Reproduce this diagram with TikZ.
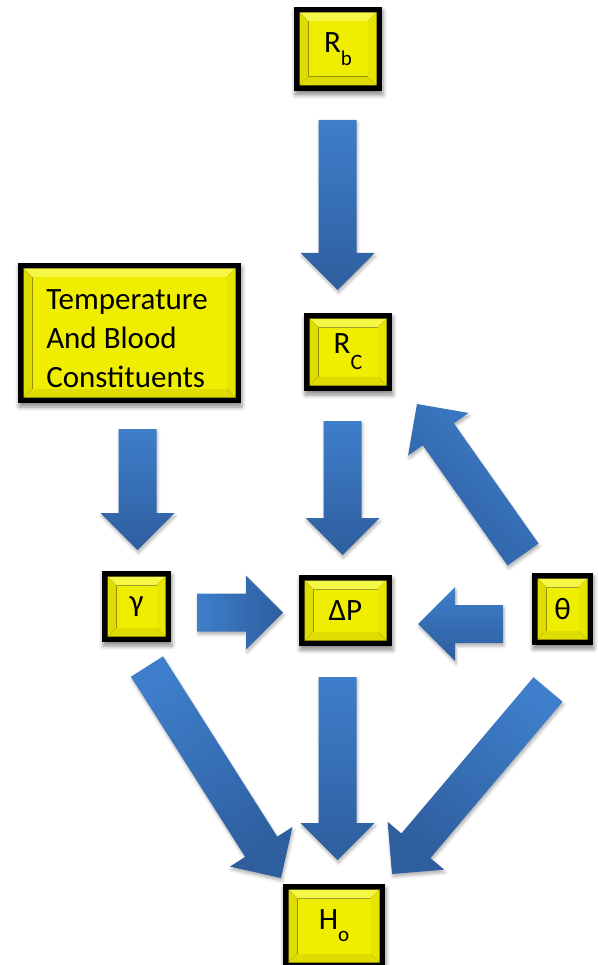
\documentclass[tikz,border=0pt]{standalone}
\usepackage{fontspec}
\setmainfont{Carlito}
\usetikzlibrary{calc,shadows.blur}
\definecolor{arrlight}{RGB}{62,126,202}
\definecolor{arrdark}{RGB}{46,94,158}
\definecolor{ycenter}{RGB}{240,238,0}
\definecolor{ytop}{RGB}{246,246,70}
\definecolor{yleft}{RGB}{222,220,0}
\definecolor{yright}{RGB}{232,230,0}
\definecolor{ybottom}{RGB}{222,220,0}
\newcommand{\blockarrow}[3]{%
  \coordinate (hb) at ($(#2)!37pt!(#1)$);
  \path[arrowbody, shading angle=#3]
    ($(#1)!19pt!90:(#2)$) -- ($(hb)!19pt!90:(#2)$) -- ($(hb)!37pt!90:(#2)$) --
    (#2) -- ($(hb)!37pt!-90:(#2)$) -- ($(hb)!19pt!-90:(#2)$) --
    ($(#1)!19pt!-90:(#2)$) -- cycle;
}
\tikzset{
  arrowbody/.style={top color=arrlight, bottom color=arrdark,
    blur shadow={shadow xshift=1pt, shadow yshift=-3pt, shadow blur radius=3pt, shadow opacity=30}},
  txt/.style={inner sep=0pt, font=\fontsize{31}{39}\selectfont},
  box/.style={fill=black, inner sep=0pt, align=center,
    font=\fontsize{31}{39}\selectfont,
    blur shadow={shadow xshift=1pt, shadow yshift=-4pt, shadow blur radius=4pt, shadow opacity=45},
    path picture={
      \coordinate (pNW) at (path picture bounding box.north west);
      \coordinate (pSE) at (path picture bounding box.south east);
      \coordinate (Y1) at ([shift={(5.5pt,-5.5pt)}]pNW);
      \coordinate (Y3) at ([shift={(-5.5pt,5.5pt)}]pSE);
      \coordinate (YNE) at (Y3 |- Y1);
      \coordinate (YSW) at (Y1 |- Y3);
      \coordinate (I1) at ([shift={(9pt,-9pt)}]Y1);
      \coordinate (I3) at ([shift={(-9pt,9pt)}]Y3);
      \coordinate (INE) at (I3 |- I1);
      \coordinate (ISW) at (I1 |- I3);
      \fill[ytop] (Y1) -- (YNE) -- (INE) -- (I1) -- cycle;
      \fill[yleft] (Y1) -- (I1) -- (ISW) -- (YSW) -- cycle;
      \fill[yright] (YNE) -- (Y3) -- (I3) -- (INE) -- cycle;
      \fill[ybottom] (YSW) -- (ISW) -- (I3) -- (Y3) -- cycle;
      \fill[ycenter] (I1) rectangle (I3);
    }}
}
\newcommand{\sbx}[3]{\raisebox{#1}{\fontsize{#2}{24}\selectfont #3}}
\begin{document}
\begin{tikzpicture}[x=1pt,y=-1pt]
\useasboundingbox (0,0) rectangle (597,965);
% boxes
\node[box, minimum width=88pt, minimum height=84pt] (Rb) at (338,49) {R\sbx{-13pt}{21}{b}};
\node[box, minimum width=223pt, minimum height=140pt] (T) at (129.5,333) {};
\node[txt, align=left] (Ttext) at (127,339) {Temperature\\And Blood\\Constituents};
\node[box, minimum width=88pt, minimum height=78pt] (Rc) at (348,352) {R\sbx{-16pt}{22}{C}};
\node[box, minimum width=69pt, minimum height=71pt] (g) at (136.5,606.5) {γ};
\node[box, minimum width=93pt, minimum height=71pt] (dP) at (345.5,610.5) {ΔP};
\node[box, minimum width=61pt, minimum height=72pt] (th) at (562.5,609) {θ};
\node[box, minimum width=102pt, minimum height=84pt] (Ho) at (334,926) {H\sbx{-12pt}{21}{o}};
% arrow end points
\coordinate (a1s) at (337.5,120);  \coordinate (a1e) at (337.5,290);
\coordinate (a2s) at (137.5,429);  \coordinate (a2e) at (137.5,550);
\coordinate (a3s) at (342.5,421);  \coordinate (a3e) at (342.5,555);
\coordinate (a4s) at (197,612.5);  \coordinate (a4e) at (283,612.5);
\coordinate (a5s) at (503,624);    \coordinate (a5e) at (418,624);
\coordinate (a6s) at (523,554.5);  \coordinate (a6e) at (417,404);
\coordinate (a7s) at (147,666.5);  \coordinate (a7e) at (281,878);
\coordinate (a8s) at (337.5,677);  \coordinate (a8e) at (337.5,860);
\coordinate (a9s) at (548,689.5);  \coordinate (a9e) at (392,874);
% arrows
\blockarrow{a1s}{a1e}{0}
\blockarrow{a2s}{a2e}{0}
\blockarrow{a3s}{a3e}{0}
\blockarrow{a4s}{a4e}{90}
\blockarrow{a5s}{a5e}{0}
\blockarrow{a6s}{a6e}{-45}
\blockarrow{a7s}{a7e}{32}
\blockarrow{a8s}{a8e}{0}
\blockarrow{a9s}{a9e}{-40}
\end{tikzpicture}
\end{document}
